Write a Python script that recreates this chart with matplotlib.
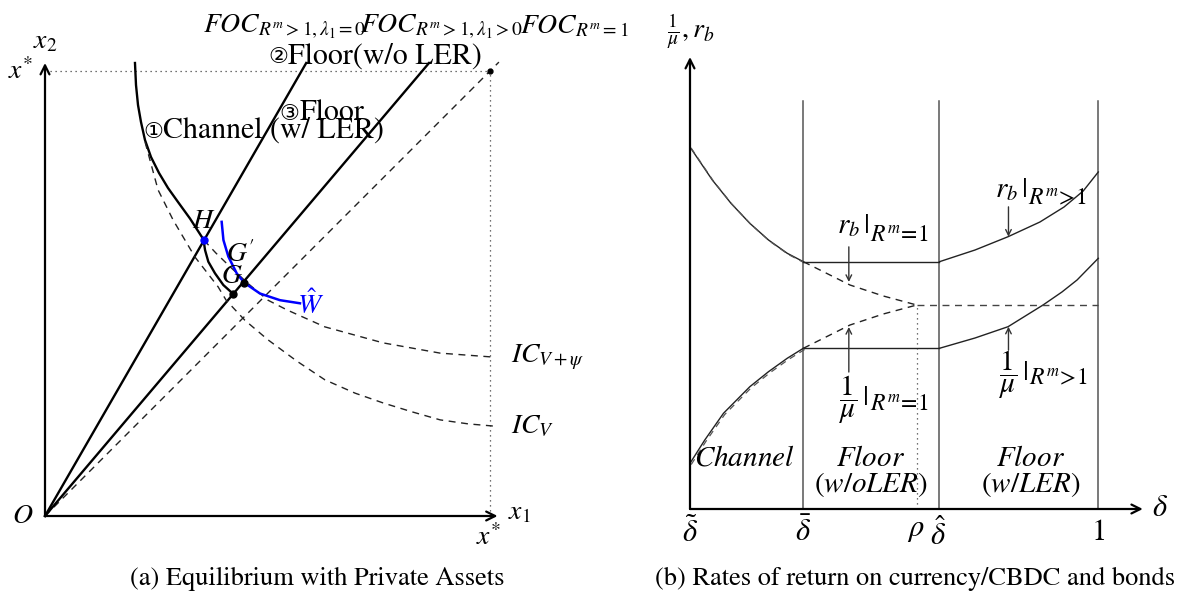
import matplotlib
matplotlib.use("Agg")
import matplotlib.pyplot as plt

plt.rcParams['font.family'] = ['STIXGeneral', 'DejaVu Sans']
plt.rcParams['mathtext.fontset'] = 'stix'

# ---------------- Panel (a) data (units: x* = 1) ----------------
foc_lambda0_top = (0.587, 1.018)
foc_lambda_pos_top = (0.863, 1.018)
diag_top = (1.02, 1.02)

channel_x = [0.2022, 0.2045, 0.2090, 0.2157, 0.2247, 0.2382, 0.2562, 0.2764, 0.2989, 0.3258, 0.3562,
             0.3596, 0.3670, 0.3820, 0.4007, 0.4231]
channel_y = [1.018, 0.9685, 0.9236, 0.8854, 0.8449, 0.8067, 0.7708, 0.7371, 0.7056, 0.6685, 0.6213,
             0.5978, 0.5715, 0.5454, 0.5191, 0.4989]

icv_x = [0.225, 0.254, 0.288, 0.337, 0.389, 0.407, 0.449, 0.501, 0.566, 0.629, 0.697, 0.760, 0.825, 0.888, 0.951, 1.009]
icv_y = [0.840, 0.733, 0.665, 0.582, 0.515, 0.485, 0.440, 0.396, 0.348, 0.306, 0.276, 0.254, 0.234, 0.216, 0.207, 0.202]

icvpsi_x = [0.357, 0.384, 0.416, 0.458, 0.501, 0.544, 0.629, 0.760, 0.888, 1.009]
icvpsi_y = [0.620, 0.591, 0.560, 0.521, 0.485, 0.463, 0.425, 0.389, 0.366, 0.357]

w_hat_x = [0.397, 0.401, 0.412, 0.431, 0.448, 0.483, 0.528, 0.573]
w_hat_y = [0.661, 0.620, 0.583, 0.545, 0.524, 0.500, 0.485, 0.478]

point_H = (0.357, 0.620)
point_G = (0.423, 0.499)
point_Gp = (0.448, 0.524)
point_xstar = (1.0, 1.0)

# ---------------- Panel (b) data ----------------
delta_ticks = [0.0, 0.2776, 0.5553, 0.6110, 1.0]
delta_tick_labels = [r'$\tilde{\delta}$', r'$\bar{\delta}$', r'$\rho$', r'$\hat{\delta}$', r'$1$']
regime_bounds = [0.2776, 0.6110, 1.0]
rho_level = 0.4996

rb_channel_x = [0.0, 0.0546, 0.1004, 0.1465, 0.1923, 0.2381, 0.2776]
rb_channel_y = [0.8866, 0.8058, 0.7487, 0.6997, 0.6588, 0.6263, 0.6057]
rb_floor_level = 0.6057
rb_ler_x = [0.611, 0.698, 0.779, 0.857, 0.916, 0.963, 1.0]
rb_ler_y = [0.6057, 0.6343, 0.6669, 0.7029, 0.7396, 0.7788, 0.8254]
rb_dash_x = [0.2776, 0.3918, 0.4734, 0.5553]
rb_dash_y = [0.6057, 0.5486, 0.5217, 0.4996]

mu_channel_x = [0.0, 0.0362, 0.0820, 0.1465, 0.1923, 0.2381, 0.2776]
mu_channel_y = [0.1119, 0.1690, 0.2344, 0.2995, 0.3363, 0.3691, 0.3936]
mu_floor_level = 0.3936
mu_ler_x = [0.611, 0.698, 0.779, 0.8646, 0.911, 0.948, 1.0]
mu_ler_y = [0.3936, 0.4188, 0.4465, 0.4996, 0.5315, 0.5609, 0.6140]
mu_dash_x = [0.2776, 0.3918, 0.4734, 0.5553]
mu_dash_y = [0.3936, 0.4506, 0.4776, 0.4996]

W, H = 1187, 601
fig = plt.figure(figsize=(W / 100, H / 100), dpi=100)
renderer = fig.canvas.get_renderer()

# ================= Panel (a) =================
sa = 445.0
axa = fig.add_axes([0, 0, 600 / W, 1])
axa.set_xlim(-45 / sa, 555 / sa)
axa.set_ylim(-85 / sa, 516 / sa)
axa.axis('off')

arrow_kw = dict(arrowstyle='->', lw=1.6, color='black', shrinkA=0, shrinkB=0, mutation_scale=16)
axa.annotate('', xy=(1.017, 0), xytext=(0, 0), arrowprops=arrow_kw)
axa.annotate('', xy=(0, 1.018), xytext=(0, 0), arrowprops=arrow_kw)

# dotted x* guides
axa.plot([0.011, point_xstar[0]], [point_xstar[1], point_xstar[1]], ls=(0, (1, 3)), color='#444', lw=0.9)
axa.plot([point_xstar[0], point_xstar[0]], [0, point_xstar[1]], ls=(0, (1, 3)), color='#444', lw=0.9)

# 45-degree dashed line
axa.plot([0, diag_top[0]], [0, diag_top[1]], ls=(0, (5, 4)), color='#222', lw=1.0)

# FOC rays
axa.plot([0, foc_lambda0_top[0]], [0, foc_lambda0_top[1]], color='black', lw=1.7)
axa.plot([0, foc_lambda_pos_top[0]], [0, foc_lambda_pos_top[1]], color='black', lw=1.7)

# Channel curve
axa.plot(channel_x, channel_y, color='black', lw=1.7)

# indifference curves
axa.plot(icv_x, icv_y, ls=(0, (5, 4)), color='#222', lw=1.0)
axa.plot(icvpsi_x, icvpsi_y, ls=(0, (5, 4)), color='#222', lw=1.0)

# W hat curve
axa.plot(w_hat_x, w_hat_y, color='#0000ff', lw=1.8)

# points
axa.plot(*point_H, 'o', color='#0000ff', ms=5)
axa.plot(*point_G, 'o', color='black', ms=5)
axa.plot(*point_Gp, 'o', color='black', ms=5)
axa.plot(*point_xstar, 'o', color='black', ms=3.5)

fs = 20
fu = 21.5
axa.text(0.356, 1.085, r'$FOC_{R^m>1,\lambda_1=0}$', fontsize=fs, ha='left', va='baseline')
axa.text(0.708, 1.085, r'$FOC_{R^m>1,\lambda_1>0}$', fontsize=fs, ha='left', va='baseline')
axa.text(1.067, 1.085, r'$FOC_{R^m=1}$', fontsize=fs, ha='left', va='baseline')


def circ_label(ax, x, y, digit, rest):
    t = ax.text(x, y, digit, fontsize=16, family=['DejaVu Sans'], ha='left', va='baseline')
    bb = t.get_window_extent(renderer=renderer)
    xr, _ = ax.transData.inverted().transform((bb.x1, bb.y0))
    ax.text(xr, y, rest, fontsize=fu, ha='left', va='baseline')


circ_label(axa, 0.501, 1.017, '②', 'Floor(w/o LER)')
circ_label(axa, 0.527, 0.890, '③', 'Floor')
circ_label(axa, 0.221, 0.850, '①', 'Channel (w/ LER)')

axa.text(0.356, 0.661, r'$H$', fontsize=fs, ha='center', va='center')
axa.text(0.440, 0.587, r"$G'$", fontsize=fs, ha='center', va='center')
axa.text(0.420, 0.539, r'$G$', fontsize=fs, ha='center', va='center')
axa.text(0.596, 0.474, r'$\hat{W}$', fontsize=fs, ha='center', va='center', color='#0000ff')
axa.text(1.047, 0.357, r'$IC_{V+\psi}$', fontsize=fs, ha='left', va='center')
axa.text(1.047, 0.202, r'$IC_{V}$', fontsize=fs, ha='left', va='center')

axa.text(0.0, 1.065, r'$x_2$', fontsize=fs, ha='center', va='center')
axa.text(-0.054, 0.998, r'$x^{*}$', fontsize=fs, ha='center', va='center')
axa.text(-0.049, 0.0, r'$O$', fontsize=fs, ha='center', va='center')
axa.text(1.067, 0.007, r'$x_1$', fontsize=fs, ha='center', va='center')
axa.text(0.996, -0.049, r'$x^{*}$', fontsize=fs, ha='center', va='center')

fig.text(317 / W, 1 - 579 / H, '(a) Equilibrium with Private Assets', fontsize=19,
         ha='center', va='center')

# ================= Panel (b) =================
sb = 408.3
axb = fig.add_axes([600 / W, 0, 587 / W, 1])
axb.set_xlim((600 - 690) / sb, (1187 - 690) / sb)
axb.set_ylim((509 - 601) / sb, 509 / sb)
axb.axis('off')

axb.annotate('', xy=(1.109, 0), xytext=(0, 0), arrowprops=arrow_kw)
axb.annotate('', xy=(0, 1.107), xytext=(0, 0), arrowprops=arrow_kw)

for xb in regime_bounds:
    axb.plot([xb, xb], [0, 1.0], color='#555', lw=1.1)

axb.plot([delta_ticks[2], delta_ticks[2]], [0, rho_level], ls=(0, (1, 3)), color='#444', lw=0.9)

lc = '#222'
# r_b
axb.plot(rb_channel_x, rb_channel_y, color=lc, lw=1.0)
axb.plot([v + 0.003 for v in rb_channel_x], [v - 0.003 for v in rb_channel_y], ls=(0, (5, 4)), color='#555', lw=0.9)
axb.plot([regime_bounds[0], regime_bounds[1]], [rb_floor_level, rb_floor_level], color=lc, lw=1.0)
axb.plot(rb_ler_x, rb_ler_y, color=lc, lw=1.0)
axb.plot(rb_dash_x, rb_dash_y, ls=(0, (5, 4)), color=lc, lw=1.0)
# 1/mu
axb.plot(mu_channel_x, mu_channel_y, color=lc, lw=1.0)
axb.plot([v + 0.003 for v in mu_channel_x], [v - 0.003 for v in mu_channel_y], ls=(0, (5, 4)), color='#555', lw=0.9)
axb.plot([regime_bounds[0], regime_bounds[1]], [mu_floor_level, mu_floor_level], color=lc, lw=1.0)
axb.plot(mu_ler_x, mu_ler_y, color=lc, lw=1.0)
axb.plot(mu_dash_x, mu_dash_y, ls=(0, (5, 4)), color=lc, lw=1.0)
# rho level
axb.plot([delta_ticks[2], 1.0], [rho_level, rho_level], ls=(0, (5, 4)), color='#444', lw=1.0)

thin_arrow = dict(arrowstyle='->', lw=1.0, color='#333', shrinkA=0, shrinkB=0, mutation_scale=10)
axb.annotate('', xy=(0.389, 0.556), xytext=(0.389, 0.642), arrowprops=thin_arrow)
axb.annotate('', xy=(0.389, 0.4457), xytext=(0.389, 0.3355), arrowprops=thin_arrow)
axb.annotate('', xy=(0.780, 0.667), xytext=(0.780, 0.740), arrowprops=thin_arrow)
axb.annotate('', xy=(0.780, 0.4465), xytext=(0.780, 0.389), arrowprops=thin_arrow)


def bar_label(ax, x, y, head, sub, y_sub, va_head):
    t = ax.text(x, y, head, fontsize=21, ha='left', va=va_head)
    bb = t.get_window_extent(renderer=renderer)
    xr, _ = ax.transData.inverted().transform((bb.x1 + 1, bb.y0))
    ax.text(xr, y_sub, sub, fontsize=17, ha='left', va='baseline')


bar_label(axb, 0.359, 0.676, r'$r_b\,|$', r'$R^m\!=\!1$', 0.652, 'baseline')
bar_label(axb, 0.747, 0.764, r'$r_b\,|$', r'$R^m\!>\!1$', 0.744, 'baseline')
bar_label(axb, 0.366, 0.267, r'$\dfrac{1}{\mu}\,|$', r'$R^m\!=\!1$', 0.238, 'center')
bar_label(axb, 0.756, 0.328, r'$\dfrac{1}{\mu}\,|$', r'$R^m\!>\!1$', 0.304, 'center')

fl = 21
axb.text(0.132, 0.1225, r'$Channel$', fontsize=fl, ha='center', va='center')
axb.text(0.443, 0.1225, r'$Floor$', fontsize=fl, ha='center', va='center')
axb.text(0.443, 0.0588, r'$(w/oLER)$', fontsize=fl, ha='center', va='center')
axb.text(0.834, 0.1225, r'$Floor$', fontsize=fl, ha='center', va='center')
axb.text(0.834, 0.0588, r'$(w/LER)$', fontsize=fl, ha='center', va='center')

tick_y = [-0.059, -0.059, -0.052, -0.064, -0.059]
tick_dx = [0.0, 0.0, -0.002, -0.004, 0.0]
for xv, lab, ty, dx in zip(delta_ticks, delta_tick_labels, tick_y, tick_dx):
    axb.text(xv + dx, ty, lab, fontsize=22, ha='center', va='center')
axb.text(1.150, 0.0, r'$\delta$', fontsize=22, ha='center', va='center')
axb.text(0.002, 1.173, r'$\frac{1}{\mu}, r_b$', fontsize=fs, ha='center', va='center')

fig.text(915 / W, 1 - 579 / H, '(b) Rates of return on currency/CBDC and bonds', fontsize=19,
         ha='center', va='center')

fig.savefig('out.png', dpi=100)
